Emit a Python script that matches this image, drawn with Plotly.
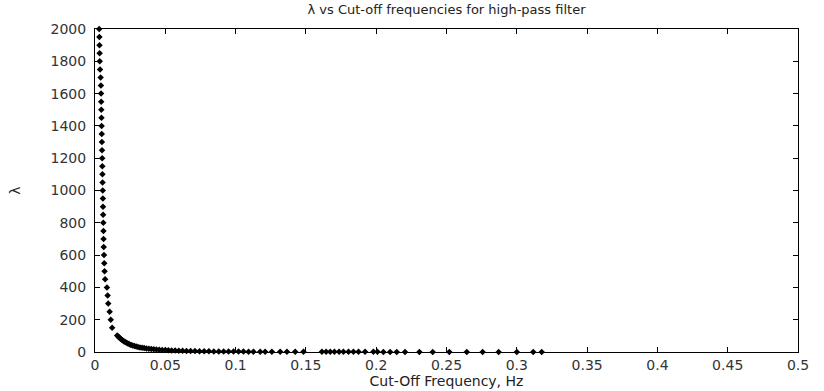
import plotly.graph_objects as go

# Cut-off frequency (Hz) and lambda values
cutoff_freq = [
    0.0030, 0.0031, 0.0032, 0.0033, 0.0034, 0.0036, 0.0040, 0.0042, 0.0043, 0.0044,
    0.0045, 0.0046, 0.0047, 0.0048, 0.0049, 0.0050, 0.0051, 0.0052, 0.0053, 0.0054,
    0.0055, 0.0056, 0.0057, 0.0058, 0.0059, 0.0060, 0.0061, 0.0062, 0.0064, 0.0066,
    0.0068, 0.0072, 0.0085, 0.0090, 0.0094, 0.0104, 0.0112, 0.0122,
    0.0158, 0.0165, 0.0172, 0.0180, 0.0188, 0.0196, 0.0205, 0.0214, 0.0224, 0.0234,
    0.0245, 0.0256, 0.0268, 0.0280, 0.0293, 0.0306, 0.0320, 0.0335, 0.0350, 0.0366,
    0.0383, 0.0400, 0.0418, 0.0437, 0.0457, 0.0478, 0.0500, 0.0522, 0.0545, 0.0570,
    0.0596, 0.0623, 0.0651, 0.0680, 0.0711, 0.0743, 0.0776, 0.0810, 0.0845, 0.0880,
    0.0915, 0.0950, 0.0985, 0.1021, 0.1056, 0.1092, 0.1127, 0.1175, 0.1210, 0.1258,
    0.1317, 0.1365, 0.1424, 0.1483, 0.1614, 0.1644, 0.1673, 0.1703, 0.1736, 0.1767,
    0.1803, 0.1838, 0.1874, 0.1921, 0.1980, 0.2009, 0.2051, 0.2099, 0.2146, 0.2205,
    0.2307, 0.2402, 0.2520, 0.2644, 0.2757, 0.2871, 0.3000, 0.3117, 0.3177,
]
lambda_values = [
    2000, 1950, 1900, 1850, 1800, 1750, 1700, 1650, 1600, 1550,
    1500, 1450, 1400, 1350, 1300, 1250, 1200, 1150, 1100, 1050,
    1000, 950, 900, 850, 800, 750, 700, 650, 600, 550,
    500, 450, 400, 350, 300, 250, 200, 150,
    102, 96, 90, 84, 78, 72, 67, 62, 57, 52,
    48, 44, 40, 37, 34, 31, 28.5, 26, 24, 22,
    20, 18.5, 17, 15.5, 14, 13, 12, 11, 10, 9,
    8.2, 7.5, 6.8, 6.2, 5.6, 5.1, 4.6, 4.2, 3.8, 3.5,
    3.2, 3.0, 2.8, 2.6, 2.4, 2.3, 2.2, 2.0, 1.9, 1.8,
    1.65, 1.55, 1.45, 1.35, 1.2, 1.15, 1.1, 1.07, 1.03, 1.0,
    0.95, 0.92, 0.88, 0.84, 0.8, 0.78, 0.75, 0.72, 0.69, 0.65,
    0.6, 0.56, 0.52, 0.48, 0.44, 0.41, 0.38, 0.35, 0.34,
]

x_ticks = [0, 0.05, 0.1, 0.15, 0.2, 0.25, 0.3, 0.35, 0.4, 0.45, 0.5]
x_tick_labels = ["0", "0.05", "0.1", "0.15", "0.2", "0.25", "0.3", "0.35", "0.4", "0.45", "0.5"]
y_ticks = [0, 200, 400, 600, 800, 1000, 1200, 1400, 1600, 1800, 2000]

FONT = "DejaVu Sans"

fig = go.Figure(
    go.Scatter(
        x=cutoff_freq,
        y=lambda_values,
        mode="markers",
        marker=dict(symbol="diamond", size=5, color="black"),
        cliponaxis=False,
        showlegend=False,
    )
)

axis_common = dict(
    showgrid=False,
    zeroline=False,
    showline=True,
    linecolor="black",
    linewidth=1,
    mirror="allticks",
    ticks="inside",
    ticklen=5,
    tickcolor="black",
    automargin=False,
    tickfont=dict(family=FONT, size=14, color="#333333"),
)

fig.update_layout(
    width=824,
    height=391,
    paper_bgcolor="white",
    plot_bgcolor="white",
    margin=dict(l=95, r=26, t=29, b=39),
    title=dict(
        text="λ vs Cut-off frequencies for high-pass filter",
        xref="paper", x=0.5, xanchor="center",
        y=0.975, yanchor="middle",
        font=dict(family=FONT, size=13, color="#222222"),
    ),
    xaxis=dict(
        range=[0, 0.5],
        tickvals=x_ticks,
        ticktext=x_tick_labels,
        title=dict(text="Cut-Off Frequency, Hz", standoff=2,
                   font=dict(family=FONT, size=14, color="#222222")),
        **axis_common,
    ),
    yaxis=dict(
        range=[0, 2000],
        tickvals=y_ticks,
        title=dict(text="λ", standoff=26,
                   font=dict(family=FONT, size=14, color="#222222")),
        ticklabelstandoff=5,
        **axis_common,
    ),
)

fig.write_html(
    "out.html",
    config={"displayModeBar": False},
    post_script="document.body.style.margin='0';document.body.style.overflow='hidden';",
)
